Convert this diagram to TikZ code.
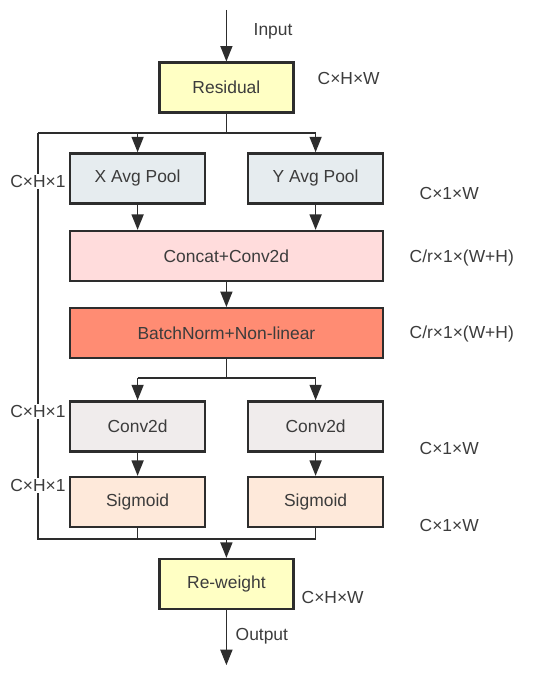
\documentclass[tikz,border=0pt]{standalone}
\usepackage{fontspec}
\setmainfont{Liberation Sans}
\definecolor{resyellow}{RGB}{255,255,196}
\definecolor{poolgray}{RGB}{230,236,239}
\definecolor{catpink}{RGB}{255,220,220}
\definecolor{bnsalmon}{RGB}{255,140,115}
\definecolor{convgray}{RGB}{240,236,236}
\definecolor{sigpeach}{RGB}{254,233,218}
\definecolor{linegray}{RGB}{45,45,45}
\definecolor{textgray}{RGB}{60,60,60}
\usetikzlibrary{arrows.meta, positioning}

\begin{document}
\begin{tikzpicture}[
    box/.style={draw=linegray, line width=1.6pt, minimum height=1.25cm, font=\fontsize{12.4}{14}\selectfont, text=textgray},
    smallbox/.style={box, minimum width=3.375cm},
    bigbox/.style={box, minimum width=7.825cm},
    midbox/.style={box, minimum width=3.35cm},
    dimlabel/.style={font=\fontsize{12.4}{14}\selectfont, text=textgray, anchor=west, inner sep=1pt},
    sidelabel/.style={font=\fontsize{12.4}{14}\selectfont, text=textgray, fill=white, inner sep=1pt},
    arr/.style={-{Triangle[length=11pt, width=8.5pt]}, line width=1.2pt, draw=linegray},
    ln/.style={line width=1.2pt, draw=linegray}
]
    \useasboundingbox (0,0) rectangle (13.75,-16.925);

    \node[midbox, fill=resyellow] (res) at (5.66, -2.19) {Residual};
    \node[smallbox, fill=poolgray] (xpool) at (3.44, -4.46) {X Avg Pool};
    \node[smallbox, fill=poolgray] (ypool) at (7.89, -4.46) {Y Avg Pool};
    \node[bigbox, fill=catpink] (cat) at (5.66, -6.4) {Concat+Conv2d};
    \node[bigbox, fill=bnsalmon] (bn) at (5.66, -8.33) {BatchNorm+Non-linear};
    \node[smallbox, fill=convgray] (convx) at (3.44, -10.66) {Conv2d};
    \node[smallbox, fill=convgray] (convy) at (7.89, -10.66) {Conv2d};
    \node[smallbox, fill=sigpeach] (sigx) at (3.44, -12.55) {Sigmoid};
    \node[smallbox, fill=sigpeach] (sigy) at (7.89, -12.55) {Sigmoid};
    \node[midbox, fill=resyellow] (rw) at (5.66, -14.6) {Re-weight};

    \coordinate (in) at (5.66, -0.25);
    \coordinate (out) at (5.66, -16.63);
    \coordinate (split) at (5.66, -3.325);
    \coordinate (left) at (0.95, -3.325);
    \coordinate (mid) at (5.66, -9.45);
    \coordinate (merge) at (5.66, -13.475);

    % input, output
    \draw[arr] (in) -- (res);
    \draw[arr] (rw) -- (out);
    \node[dimlabel] (inlbl) at (6.3, -0.78) {Input};
    \node[dimlabel] (outlbl) at (5.85, -15.9) {Output};

    % split to pools and residual path
    \draw[ln] (res) -- (split);
    \draw[ln] (left) -- (split -| ypool);
    \draw[arr] (split -| xpool) -- (xpool);
    \draw[arr] (split -| ypool) -- (ypool);
    \draw[ln] (left) -- (left |- merge) -- (merge -| sigy);

    \draw[arr] (xpool.south) -- (xpool.south |- cat.north);
    \draw[arr] (ypool.south) -- (ypool.south |- cat.north);
    \draw[arr] (cat) -- (bn);

    \draw[ln] (bn) -- (mid);
    \draw[ln] (mid -| convx) -- (mid -| convy);
    \draw[arr] (mid -| convx) -- (convx);
    \draw[arr] (mid -| convy) -- (convy);
    \draw[arr] (convx) -- (sigx);
    \draw[arr] (convy) -- (sigy);
    \draw[ln] (sigx) -- (merge -| sigx);
    \draw[ln] (sigy) -- (merge -| sigy);
    \draw[arr] (merge) -- (rw);

    % shape labels
    \node[sidelabel] (hl1) at (0.95, -4.53) {C×H×1};
    \node[sidelabel] (hl2) at (0.95, -10.28) {C×H×1};
    \node[sidelabel] (hl3) at (0.95, -12.13) {C×H×1};
    \node[dimlabel] (d1) at (7.9, -1.975) {C×H×W};
    \node[dimlabel] (d2) at (10.45, -4.83) {C×1×W};
    \node[dimlabel] (d3) at (10.2, -6.45) {C/r×1×(W+H)};
    \node[dimlabel] (d4) at (10.2, -8.35) {C/r×1×(W+H)};
    \node[dimlabel] (d5) at (10.45, -11.22) {C×1×W};
    \node[dimlabel] (d6) at (10.45, -13.13) {C×1×W};
    \node[dimlabel] (d7) at (7.5, -14.93) {C×H×W};
\end{tikzpicture}
\end{document}
